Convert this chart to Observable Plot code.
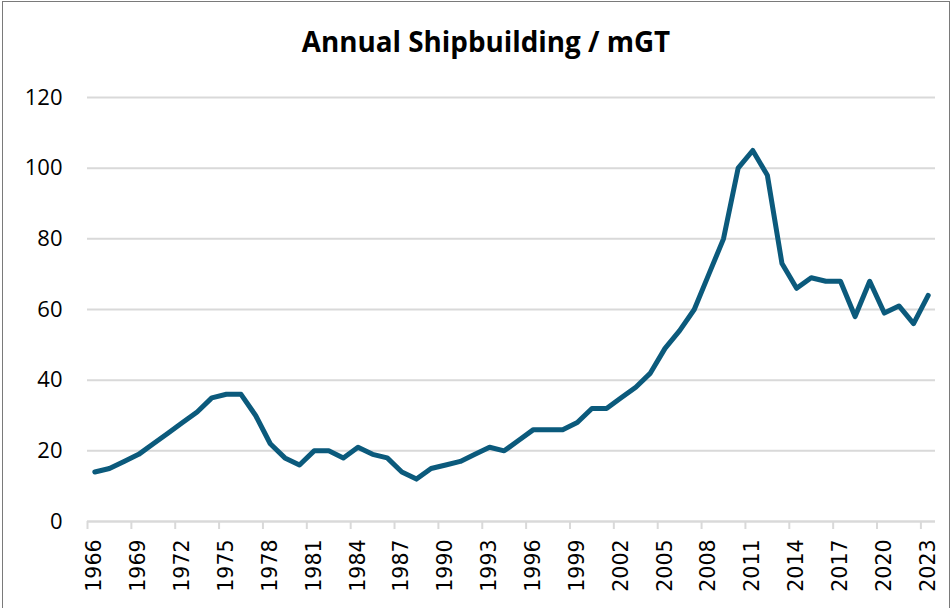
<!DOCTYPE html>
<html>
<head>
<meta charset="utf-8">
<script src="https://cdn.jsdelivr.net/npm/d3@7"></script>
<script src="https://cdn.jsdelivr.net/npm/@observablehq/plot@0.6"></script>
<style>
  html, body { margin: 0; padding: 0; background: #fff; }
  #wrap { position: relative; width: 952px; height: 608px; overflow: hidden; }
  #chart { position: absolute; left: 0; top: 0; }
  #title { position: absolute; left: 0; top: 28px; width: 972px; text-align: center; line-height: 1;
           font-family: "Open Sans", sans-serif; font-weight: 700; font-size: 27.8px; color: #000; }
  #border { position: absolute; left: 2px; top: 1px; width: 946px; height: 640px; border: 1.5px solid #7a7a7a; pointer-events: none; }
</style>
</head>
<body>
<div id="wrap">
  <div id="chart"></div>
  <div id="title">Annual Shipbuilding / mGT</div>
  <div id="border"></div>
</div>
<script>
const years = d3.range(1966, 2024);
const values = [
  14, 15, 17, 19, 22, 25, 28, 31, 35, 36,   // 1966-1975
  36, 30, 22, 18, 16, 20, 20, 18, 21, 19,   // 1976-1985
  18, 14, 12, 15, 16, 17, 19, 21, 20, 23,   // 1986-1995
  26, 26, 26, 28, 32, 32, 35, 38, 42, 49,   // 1996-2005
  54, 60, 70, 80, 100, 105, 98, 73, 66, 69, // 2006-2015
  68, 68, 58, 68, 59, 61, 56, 64            // 2016-2023
];
const yTicks = [0, 20, 40, 60, 80, 100, 120];
const xLabelYears = d3.range(1966, 2024, 3);
const xBoundaryTicks = xLabelYears.map(y => y - 0.5);

const data = years.map((year, i) => ({year, value: values[i]}));

const chart = Plot.plot({
  width: 952,
  height: 608,
  marginLeft: 87,
  marginRight: 17,
  marginTop: 97,
  marginBottom: 87,
  x: {domain: [1965.5, 2023.5]},
  y: {domain: [0, 120]},
  style: {background: "#fff", overflow: "visible"},
  marks: [
    Plot.gridY(yTicks, {stroke: "#d9d9d9", strokeOpacity: 1, strokeWidth: 2}),
    Plot.axisY({ticks: yTicks, tickSize: 0, tickPadding: 25, fontSize: 22,
      fontFamily: "Open Sans, sans-serif", fill: "#000", label: null}),
    Plot.axisX({ticks: xBoundaryTicks, tickFormat: () => "", tickSize: 8,
      stroke: "#d9d9d9", strokeWidth: 2, strokeOpacity: 1, label: null}),
    Plot.axisX({ticks: xLabelYears, tickSize: 0, tickRotate: -90, tickPadding: 18,
      tickFormat: d => String(d), fontSize: 20.5, fontFamily: "DejaVu Sans, sans-serif",
      fill: "#000", label: null}),
    Plot.ruleY([0], {stroke: "#d9d9d9", strokeWidth: 2}),
    Plot.line(data, {x: "year", y: "value", stroke: "#0b5a7c", strokeWidth: 5,
      strokeLinejoin: "round", strokeLinecap: "round"})
  ]
});
document.getElementById("chart").appendChild(chart);
</script>
</body>
</html>
